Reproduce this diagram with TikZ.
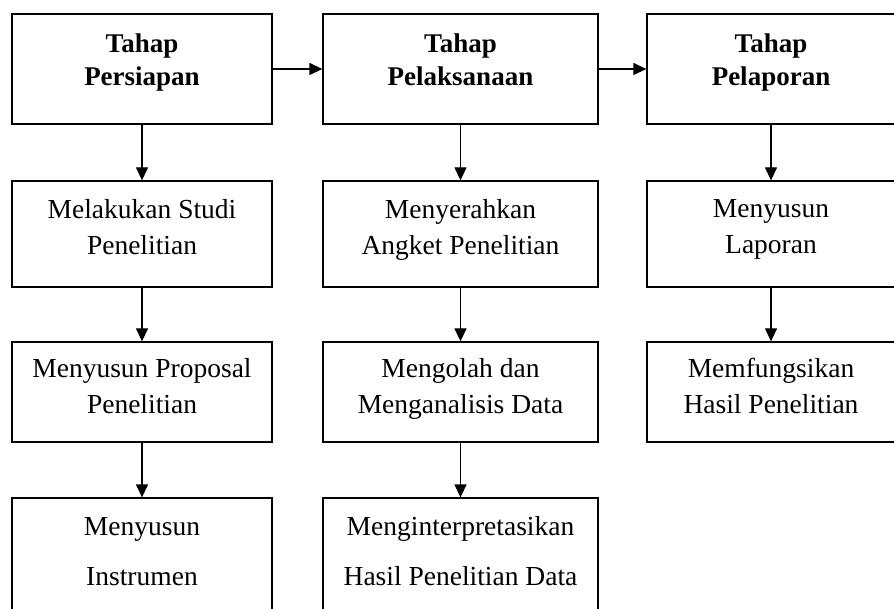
\documentclass[tikz,border=0pt]{standalone}
\usepackage{fontspec}
\setmainfont{Liberation Serif}
\usetikzlibrary{arrows.meta}

\begin{document}
\begin{tikzpicture}[
    x=1pt,y=-1pt,
    box/.style={draw,line width=1.3pt,align=center,inner sep=0pt,
      text depth=15pt,font=\fontsize{27.5}{36}\selectfont},
    head/.style={box,font=\fontsize{27}{33}\selectfont\bfseries,text depth=19pt},
    last/.style={box,font=\fontsize{27.5}{50}\selectfont,text depth=6pt},
    col1/.style={minimum width=260pt},
    col2/.style={minimum width=275pt},
    col3/.style={minimum width=248pt},
    link/.style={line width=1.3pt,-{Triangle[length=13pt,width=12pt]}}
    ]
    \useasboundingbox (0,0) rectangle (894,609);
    \clip (0,0) rectangle (894,609);
    % tahap
    \node[head,col1,minimum height=110pt] (persiapan) at (142,69) {Tahap\\Persiapan};
    \node[head,col2,minimum height=110pt] (pelaksanaan) at (460.5,69) {Tahap\\Pelaksanaan};
    \node[head,col3,minimum height=110pt] (pelaporan) at (771,69) {Tahap\\Pelaporan};
    % kegiatan
    \node[box,col1,minimum height=106pt] (studi) at (142,234) {Melakukan Studi\\Penelitian};
    \node[box,col1,minimum height=100pt,text depth=12pt] (proposal) at (142,392) {Menyusun Proposal\\Penelitian};
    \node[last,col1,minimum height=112pt] (instrumen) at (142,554) {Menyusun\\Instrumen};
    \node[box,col2,minimum height=106pt] (angket) at (460.5,234) {Menyerahkan\\Angket Penelitian};
    \node[box,col2,minimum height=100pt,text depth=12pt] (olah) at (460.5,392) {Mengolah dan\\Menganalisis Data};
    \node[last,col2,minimum height=112pt] (interpretasi) at (460.5,554) {Menginterpretasikan\\Hasil Penelitian Data};
    \node[box,col3,minimum height=106pt] (laporan) at (771,234) {Menyusun\\Laporan};
    \node[box,col3,minimum height=100pt,text depth=12pt] (fungsi) at (771,392) {Memfungsikan\\Hasil Penelitian};
    % panah
    \draw[link] (persiapan) -- (pelaksanaan);
    \draw[link] (pelaksanaan) -- (pelaporan);
    \draw[link] (persiapan) -- (studi);
    \draw[link] (studi) -- (proposal);
    \draw[link] (proposal) -- (instrumen);
    \draw[link] (pelaksanaan) -- (angket);
    \draw[link] (angket) -- (olah);
    \draw[link] (olah) -- (interpretasi);
    \draw[link] (pelaporan) -- (laporan);
    \draw[link] (laporan) -- (fungsi);
\end{tikzpicture}
\end{document}
